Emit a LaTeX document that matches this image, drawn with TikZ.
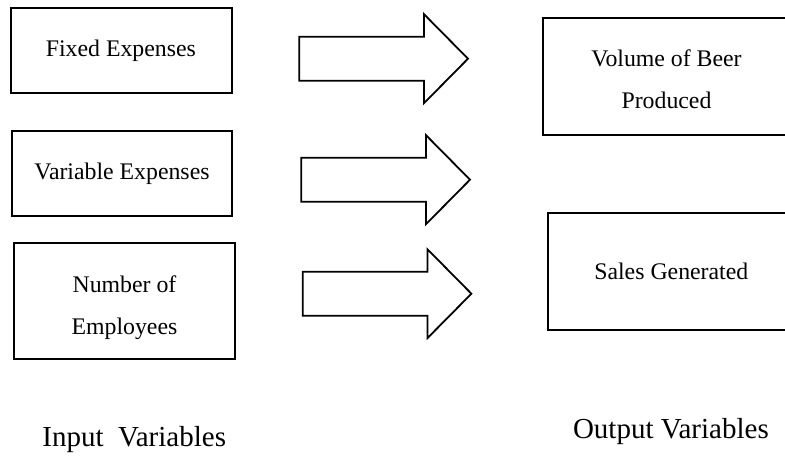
\documentclass[tikz,border=0pt]{standalone}
\usepackage{fontspec}
\setmainfont{Liberation Serif}
\begin{document}
\begin{tikzpicture}[x=1pt,y=-1pt,
  box/.style={draw=black, line width=2pt, rectangle, inner sep=0pt},
  boxtext/.style={anchor=base, align=center, inner sep=0pt,
    font=\fontsize{23.8}{42}\selectfont},
  caption/.style={anchor=base, inner sep=0pt,
    font=\fontsize{29}{34}\selectfont},
  blockarrow/.pic={
    \draw[line width=1.8pt, line join=miter]
      (0,-22) -- (124.7,-22) -- (124.7,-44.5) -- (168.7,0)
      -- (124.7,44.5) -- (124.7,22) -- (0,22) -- cycle;
  }
]
\clip (0,0) rectangle (785,457);

% input variables
\node[box, minimum width=221, minimum height=85] (fixed) at (121.5,50.5) {};
\node[box, minimum width=220.3, minimum height=84.7] (variable) at (121.8,173.7) {};
\node[box, minimum width=221.3, minimum height=115.7] (employees) at (124.7,301.2) {};
% two-line labels are anchored on the baseline of their last line
\node[boxtext] (fixed-text) at (120.9,56.7) {Fixed Expenses};
\node[boxtext] (variable-text) at (122,180) {Variable Expenses};
\node[boxtext] (employees-text) at (124.5,334.5) {Number of\\Employees};

% output variables (boxes run off the right edge)
\node[box, minimum width=247.6, minimum height=116.7] (volume) at (666.5,76.65) {};
\node[box, minimum width=246.6, minimum height=116.5] (sales) at (671.3,271.75) {};
\node[boxtext] (volume-text) at (666.5,109) {Volume of Beer\\Produced};
\node[boxtext] (sales-text) at (671.3,279.3) {Sales Generated};

% block arrows
\pic (arrow1) at (299.3,58.7) {blockarrow};
\pic (arrow2) at (301.3,179.7) {blockarrow};
\pic (arrow3) at (302.7,293.7) {blockarrow};

% column captions
\node[caption] (input-caption) at (134.2,446.7) {Input~~Variables};
\node[caption] (output-caption) at (670.9,438.3) {Output Variables};
\end{tikzpicture}
\end{document}
